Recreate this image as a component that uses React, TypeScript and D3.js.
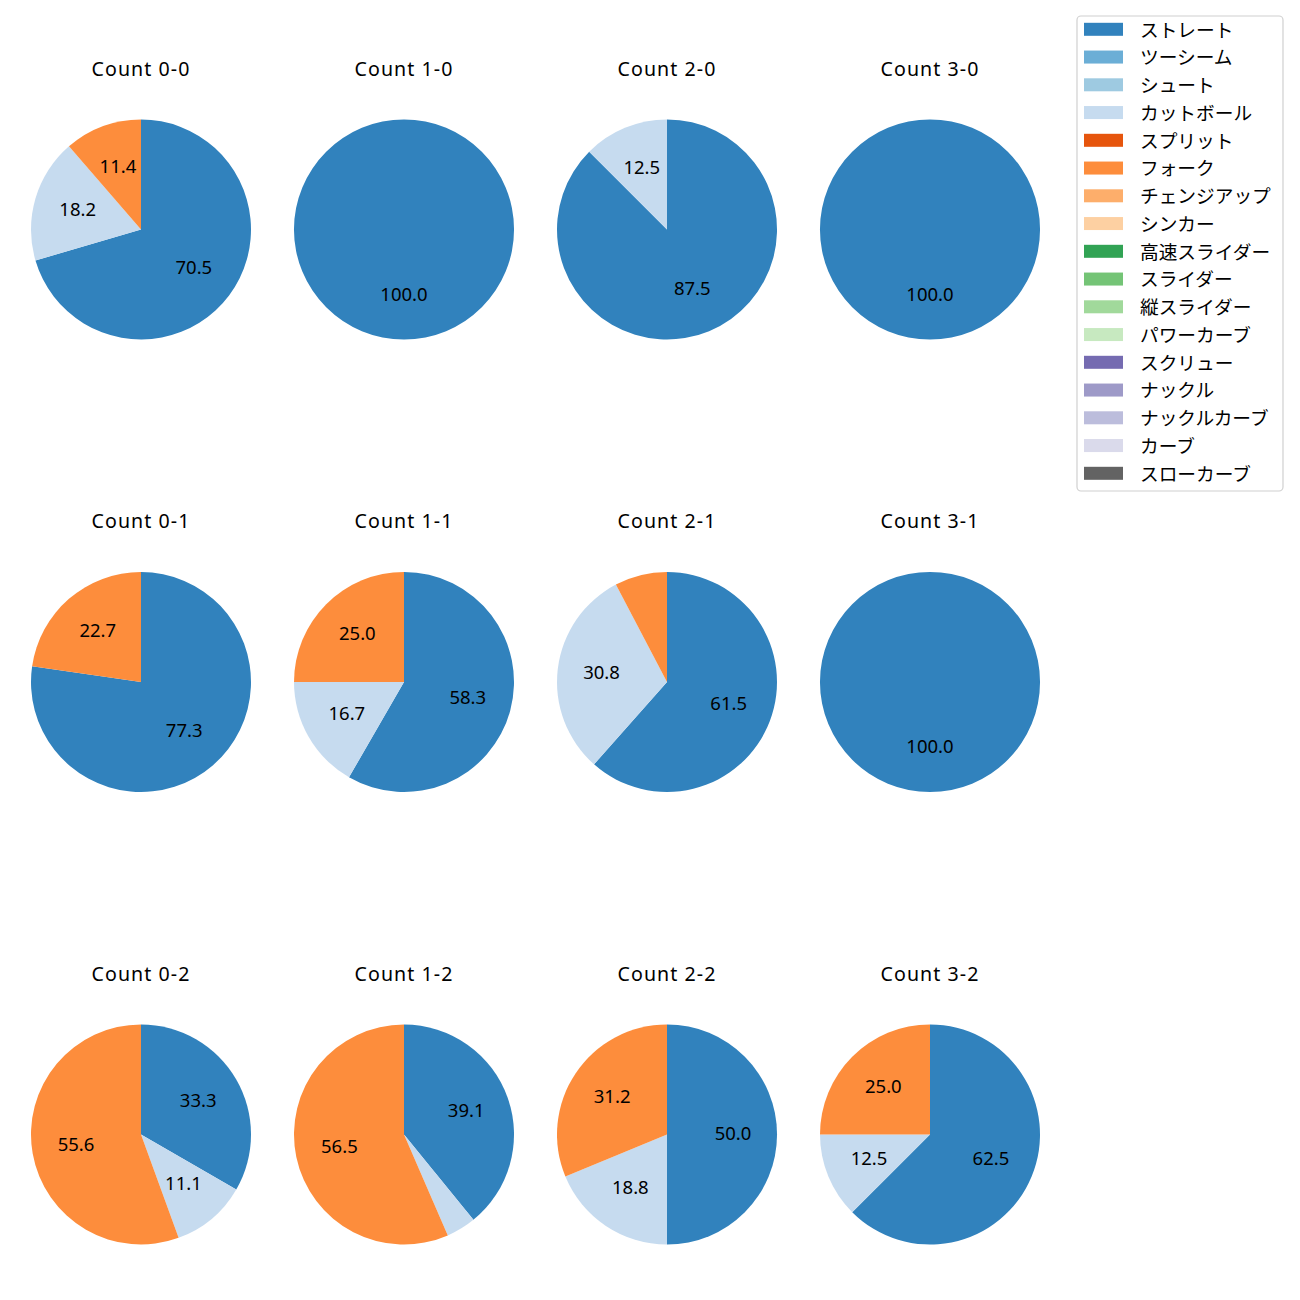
import React from "react";
import * as d3 from "d3";

const pitchTypes = ["ストレート","ツーシーム","シュート","カットボール","スプリット","フォーク","チェンジアップ","シンカー","高速スライダー","スライダー","縦スライダー","パワーカーブ","スクリュー","ナックル","ナックルカーブ","カーブ","スローカーブ"];
const pitchColors = ["#3182bd","#6baed6","#9ecae1","#c6dbef","#e6550d","#fd8d3c","#fdae6b","#fdd0a2","#31a354","#74c476","#a1d99b","#c7e9c0","#756bb1","#9e9ac8","#bcbddc","#dadaeb","#636363"];

const countLabels = ["Count 0-0","Count 1-0","Count 2-0","Count 3-0","Count 0-1","Count 1-1","Count 2-1","Count 3-1","Count 0-2","Count 1-2","Count 2-2","Count 3-2"];
// pitch counts per count situation: [ストレート, カットボール, フォーク]
const shownTypes = ["ストレート","カットボール","フォーク"];
const straightCounts = [31,1,7,1,17,7,8,1,3,9,8,5];
const cutterCounts   = [8,0,1,0,0,2,4,0,1,1,3,1];
const forkCounts     = [5,0,0,0,5,3,1,0,5,13,5,2];

const FONT = "'Noto Sans', 'Noto Sans CJK JP', sans-serif";

// Python-style %.1f (round half to even for exact halves)
function fmt1(x: number): string {
  const s = x * 10;
  const f = Math.floor(s);
  const diff = s - f;
  let r: number;
  if (Math.abs(diff - 0.5) < 1e-9) r = f % 2 === 0 ? f : f + 1;
  else r = Math.round(s);
  return (r / 10).toFixed(1);
}

export default function App() {
  const colX = d3.scalePoint<number>().domain([0,1,2,3]).range([141, 930]);
  const rowY = d3.scalePoint<number>().domain([0,1,2]).range([229.5, 1134.5]);
  const R = 110;
  const colorOf = d3.scaleOrdinal<string,string>().domain(pitchTypes).range(pitchColors);
  const pie = d3.pie<{type:string;v:number}>().sort(null).value(d => d.v).startAngle(0).endAngle(2*Math.PI);
  const arc = d3.arc<d3.PieArcDatum<{type:string;v:number}>>().innerRadius(0).outerRadius(R);
  const labelArc = d3.arc<d3.PieArcDatum<{type:string;v:number}>>().innerRadius(R*0.6).outerRadius(R*0.6);

  const legendX = 1077, legendY = 16, legendW = 206, rowH = 27.75;

  return (
    <svg width={1300} height={1300} style={{display:"block", position:"absolute", left:0, top:0}} fontFamily={FONT}>
      <rect width={1300} height={1300} fill="#fff" />
      {countLabels.map((lab, i) => {
        const c = i % 4, r = Math.floor(i / 4);
        const cx = colX(c)!, cy = rowY(r)!;
        const vals = [straightCounts[i], cutterCounts[i], forkCounts[i]];
        const data = shownTypes.map((t, k) => ({type: t, v: vals[k]})).filter(d => d.v > 0);
        const total = d3.sum(data, d => d.v);
        const arcs = pie(data);
        return (
          <g key={lab}>
            <text x={cx} y={cy - 153.8} textAnchor="middle" fontSize={19.6} letterSpacing={1.05} fill="#000">{lab}</text>
            <g transform={`translate(${cx},${cy})`}>
              {arcs.map(a => (
                <path key={a.data.type} d={arc(a)!} fill={colorOf(a.data.type)} />
              ))}
              {arcs.map(a => {
                const pct = a.data.v / total * 100;
                if (pct < 10) return null;
                const [lx, ly] = labelArc.centroid(a);
                return <text key={a.data.type + "l"} x={lx} y={ly - 2.5} textAnchor="middle" dominantBaseline="central" fontSize={18.5} fill="#000">{fmt1(pct)}</text>;
              })}
            </g>
          </g>
        );
      })}
      <rect x={legendX} y={legendY} width={legendW} height={475} rx={4} fill="#fff" stroke="#d0d0d0" strokeWidth={1.2} />
      {pitchTypes.map((t, k) => {
        const y = 29.3 + k * rowH;
        return (
          <g key={t}>
            <rect x={1084} y={y - 6.5} width={39} height={13} fill={colorOf(t)} />
            <text x={1140} y={y - 0.3} dominantBaseline="central" fontSize={18.7} fill="#000">{t}</text>
          </g>
        );
      })}
    </svg>
  );
}
